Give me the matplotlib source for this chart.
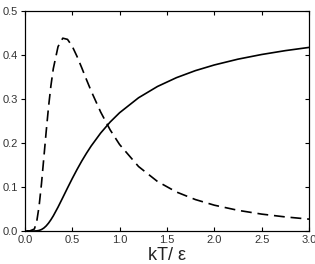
import matplotlib
matplotlib.use("Agg")
import matplotlib.pyplot as plt

plt.rcParams['font.family'] = ['Liberation Sans', 'DejaVu Sans']

# kT/eps values
kT = [0.02, 0.05, 0.1, 0.125, 0.15, 0.175, 0.2, 0.225, 0.25, 0.275, 0.3, 0.35, 0.4,
      0.45, 0.5, 0.55, 0.6, 0.65, 0.7, 0.8, 0.9, 1.0, 1.2, 1.4, 1.6, 1.8,
      2.0, 2.25, 2.5, 2.75, 3.0]
# solid curve
solid = [0.0, 0.0, 0.0, 0.0003, 0.0013, 0.0033, 0.0067, 0.0116, 0.018, 0.0257, 0.0344,
         0.0543, 0.0759, 0.0978, 0.1192, 0.1396, 0.1589, 0.1767, 0.1933, 0.2227,
         0.2477, 0.2689, 0.3029, 0.3286, 0.3486, 0.3646, 0.3775, 0.3907, 0.4013,
         0.4101, 0.4174]
# dashed curve
dashed = [0.0, 0.0, 0.0045, 0.0214, 0.0564, 0.1071, 0.1664, 0.2264, 0.2828, 0.3306,
          0.3691, 0.4192, 0.4384, 0.4357, 0.42, 0.3971, 0.3713, 0.3443, 0.3182,
          0.2705, 0.23, 0.1966, 0.1466, 0.1126, 0.0887, 0.0715, 0.0587, 0.047,
          0.0384, 0.032, 0.027]

fig = plt.figure(figsize=(3.15, 2.64), dpi=100)
ax = fig.add_axes([0.079, 0.125, 0.902, 0.833])

ax.plot(kT, solid, color="black", lw=1.2)
ax.plot(kT, dashed, color="black", lw=1.2, linestyle=(0, (6.5, 3.5)))

ax.set_xlim(0, 3.0)
ax.set_ylim(0, 0.5)
ax.set_xticks([0.0, 0.5, 1.0, 1.5, 2.0, 2.5, 3.0])
ax.set_yticks([0.0, 0.1, 0.2, 0.3, 0.4, 0.5])
ax.tick_params(axis="both", labelsize=8, labelcolor="#333333", length=3, width=0.8)
ax.tick_params(axis="x", direction="in", top=True, pad=3)
ax.tick_params(axis="y", direction="out", right=False, pad=2)
for s in ax.spines.values():
    s.set_linewidth(0.8)
# inward ticks on the right side
ax2 = ax.twinx()
ax2.set_ylim(0, 0.5)
ax2.set_yticks([0.0, 0.1, 0.2, 0.3, 0.4, 0.5])
ax2.tick_params(axis="y", direction="in", length=3, width=0.8, labelright=False)

ax.set_xlabel("kT/ ε", fontsize=13, labelpad=1.5, color="#222222")

fig.savefig("out.png", dpi=100)
